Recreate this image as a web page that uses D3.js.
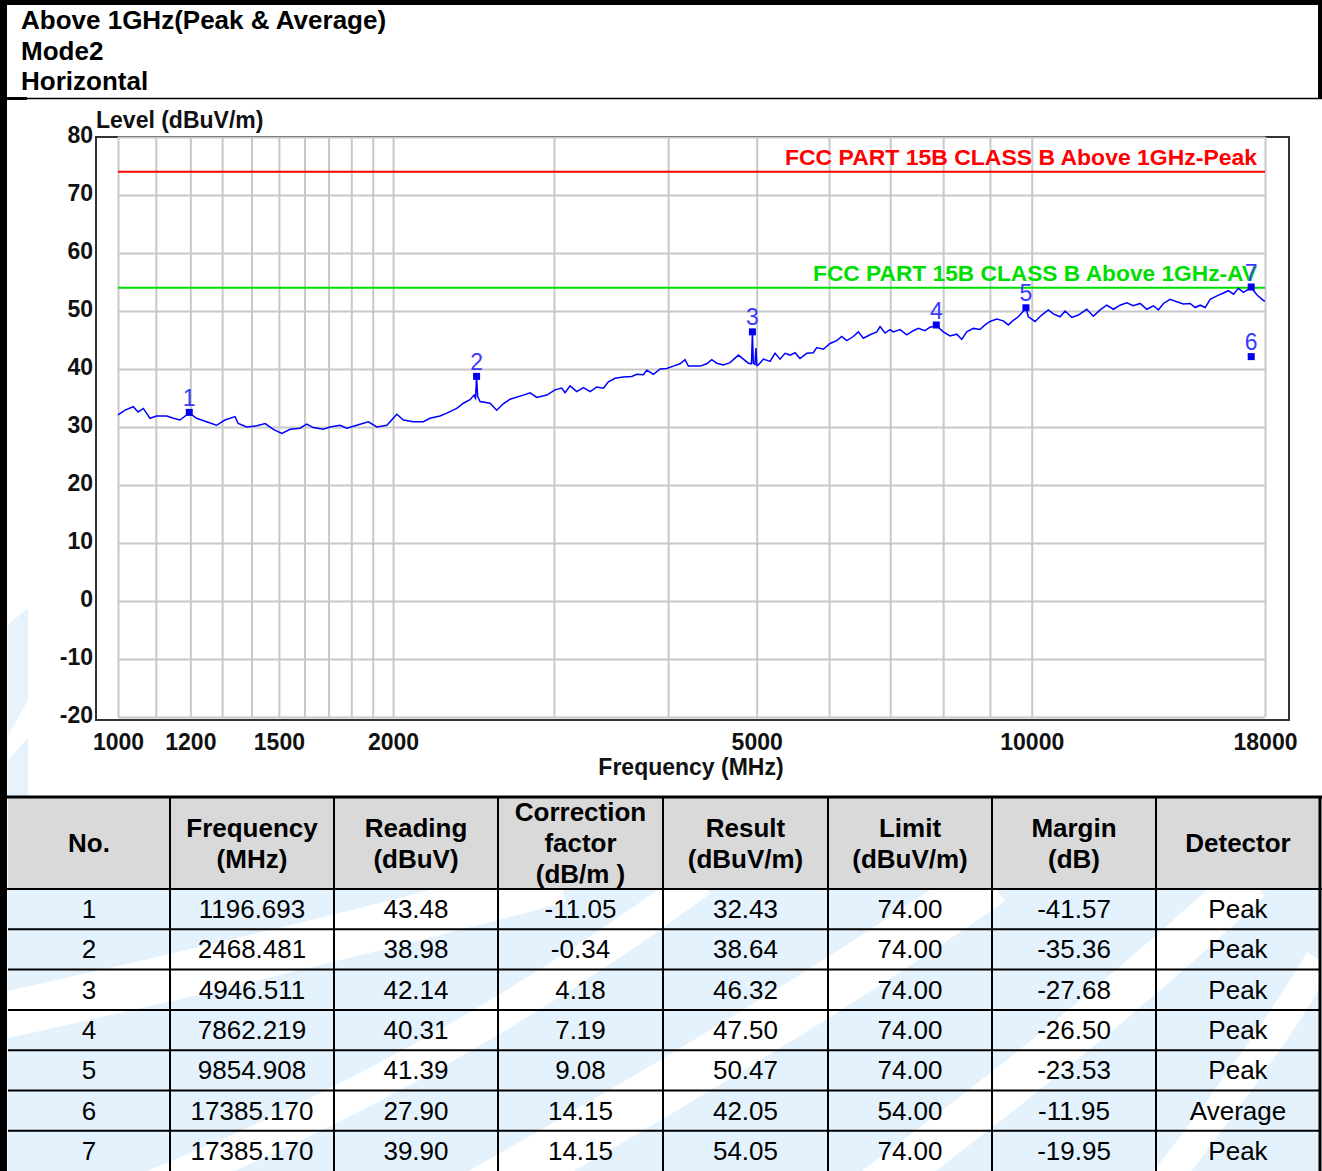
<!DOCTYPE html>
<html>
<head>
<meta charset="utf-8">
<script src="https://cdn.jsdelivr.net/npm/d3@7"></script>
<style>
    body { margin: 0; background: #fff; }
    svg { display: block; }
    text { font-family: "Liberation Sans", Arial, sans-serif; }
</style>
</head>
<body>
<svg id="page"></svg>
<script>
// ---- data ----
const titleLines = ["Above 1GHz(Peak & Average)", "Mode2", "Horizontal"];

// measured trace [MHz, dBuV/m]
const trace = [
    [1000,32.1],[1018,32.9],[1039,33.5],[1052,32.6],[1066,33.2],[1084,31.5],[1102,31.9],[1131,31.9],
    [1150,31.5],[1169,31.2],[1196.693,32.43],[1219,31.5],[1250,30.9],[1282,30.3],[1309,31.2],[1343,31.8],
    [1354,30.6],[1383,30.0],[1419,30.2],[1449,30.6],[1479,29.6],[1511,28.9],[1543,29.6],[1582,29.8],
    [1609,30.5],[1636,29.9],[1678,29.6],[1706,30.0],[1750,30.3],[1780,29.8],[1825,30.3],[1879,30.9],
    [1920,30.0],[1969,30.3],[2019,32.2],[2053,31.2],[2105,30.9],[2159,30.9],[2195,31.5],[2251,31.9],
    [2290,32.4],[2348,33.2],[2388,34.1],[2428,34.7],[2453,35.5],[2462,35.0],[2468.481,38.64],[2475,35.3],
    [2490,34.4],[2554,34.1],[2597,32.9],[2640,34.0],[2686,34.8],[2777,35.5],[2825,35.9],[2873,35.1],
    [2946,35.5],[3008,36.4],[3059,36.7],[3085,35.9],[3124,37.1],[3177,36.1],[3231,36.8],[3286,36.1],
    [3342,36.9],[3398,36.7],[3441,37.8],[3499,38.4],[3573,38.6],[3650,38.7],[3696,39.1],[3758,39.0],
    [3790,39.8],[3854,39.1],[3920,40.0],[3986,40.1],[4053,40.5],[4122,40.9],[4174,41.6],[4209,40.5],
    [4335,40.5],[4409,40.9],[4465,41.6],[4522,41.0],[4597,40.7],[4676,41.1],[4775,42.4],[4835,41.7],
    [4896,41.0],[4935,40.9],[4946.511,46.32],[4958,41.0],[4978,40.8],[4990,43.6],[5002,40.6],[5021,40.7],
    [5085,41.7],[5172,41.3],[5237,42.7],[5304,41.7],[5370,42.7],[5439,42.4],[5507,42.8],[5577,41.8],
    [5672,42.7],[5767,42.8],[5817,43.7],[5915,43.4],[6015,44.4],[6118,44.9],[6195,45.6],[6274,44.9],
    [6379,45.6],[6460,46.4],[6542,45.3],[6653,45.9],[6767,46.4],[6823,47.3],[6909,46.2],[6997,46.8],
    [7055,46.4],[7176,46.8],[7298,45.9],[7420,46.6],[7514,47.0],[7642,46.6],[7739,47.2],[7862.219,47.50],
    [8003,46.4],[8139,45.7],[8278,46.0],[8383,45.1],[8489,46.4],[8631,47.0],[8778,46.8],[8889,47.6],
    [9002,48.2],[9155,48.6],[9309,48.3],[9427,47.6],[9546,48.4],[9667,49.0],[9854.908,50.47],[9915,49.0],
    [10084,48.2],[10255,49.3],[10427,50.2],[10560,49.5],[10739,49.0],[10876,50.0],[11061,48.9],[11246,49.3],
    [11487,50.3],[11680,49.1],[11879,50.2],[12081,51.0],[12284,50.3],[12493,51.0],[12706,51.4],[12919,50.9],
    [13140,51.3],[13364,50.3],[13588,50.9],[13760,50.2],[13935,51.3],[14172,52.0],[14414,51.6],[14656,51.2],
    [14906,51.3],[15095,50.6],[15287,51.0],[15481,50.6],[15677,52.0],[15944,52.6],[16211,53.1],[16417,53.5],
    [16625,52.9],[16835,53.9],[17049,53.2],[17385.17,54.05],[17635,52.8],[17930,51.8],[18000,51.7]
];

const limitNames = ["FCC PART 15B CLASS B Above 1GHz-Peak", "FCC PART 15B CLASS B Above 1GHz-AV"];
const limitValues = [74, 54];
const limitColors = ["#ff0000", "#00dd00"];

const xLabelTicks = [1000, 1200, 1500, 2000, 5000, 10000, 18000];
const xGridTicks = d3.range(1000, 2000, 100).concat(d3.range(2000, 10001, 1000), [18000]);
const yTicks = d3.range(-20, 81, 10);

// marker table
const markerNo = [1, 2, 3, 4, 5, 6, 7];
const markerFreq = [1196.693, 2468.481, 4946.511, 7862.219, 9854.908, 17385.170, 17385.170];
const reading = [43.48, 38.98, 42.14, 40.31, 41.39, 27.90, 39.90];
const corrFactor = [-11.05, -0.34, 4.18, 7.19, 9.08, 14.15, 14.15];
const result = [32.43, 38.64, 46.32, 47.50, 50.47, 42.05, 54.05];
const limit = [74.00, 74.00, 74.00, 74.00, 74.00, 54.00, 74.00];
const margin = [-41.57, -35.36, -27.68, -26.50, -23.53, -11.95, -19.95];
const detector = ["Peak", "Peak", "Peak", "Peak", "Peak", "Average", "Peak"];

const headers = [
    ["No."], ["Frequency", "(MHz)"], ["Reading", "(dBuV)"], ["Correction", "factor", "(dB/m )"],
    ["Result", "(dBuV/m)"], ["Limit", "(dBuV/m)"], ["Margin", "(dB)"], ["Detector"]
];

// ---- layout ----
const W = 1322, H = 1171;
const svg = d3.select("#page").attr("width", W).attr("height", H);

const x = d3.scaleLog().domain([1000, 18000]).range([118, 1265]);
const y = d3.scaleLinear().domain([-20, 80]).range([717, 137]);

// faint watermark bits at left edge
svg.append("path")
    .attr("d", "M8,625 L28,608 L28,700 L8,735 Z M8,760 L28,738 L28,797 L8,797 Z")
    .attr("fill", "#e6f3fc");

// title block
const title = svg.append("g");
titleLines.forEach((t, i) => {
    title.append("text")
        .attr("x", 21).attr("y", 29 + i * 30.5)
        .attr("font-size", 26).attr("font-weight", "bold")
        .text(t);
});
svg.append("line").attr("x1", 0).attr("x2", W).attr("y1", 98.5).attr("y2", 98.5)
    .attr("stroke", "#000").attr("stroke-width", 1.5);
svg.append("rect").attr("x", 0).attr("y", 97).attr("width", 27).attr("height", 3).attr("fill", "#000");

// ---- chart ----
const chart = svg.append("g");

chart.append("rect")
    .attr("x", 96).attr("y", 137).attr("width", 1193).attr("height", 583)
    .attr("fill", "#fff").attr("stroke", "#333").attr("stroke-width", 2);

// grid via axes
chart.append("g")
    .attr("transform", "translate(0,717)")
    .call(d3.axisBottom(x).tickValues(xGridTicks).tickSize(-580).tickFormat(""))
    .call(g => g.select(".domain").remove())
    .call(g => g.selectAll("line").attr("stroke", "#c8c8c8").attr("stroke-width", 2));

chart.append("g")
    .attr("transform", "translate(118,0)")
    .call(d3.axisLeft(y).tickValues(yTicks).tickSize(-1147).tickFormat(""))
    .call(g => g.select(".domain").remove())
    .call(g => g.selectAll("line").attr("stroke", "#c8c8c8").attr("stroke-width", 2));

// tick labels (plain hyphen minus, as in the reference)
chart.append("g")
    .attr("transform", "translate(95,0)")
    .call(d3.axisLeft(y).tickValues(yTicks).tickSize(0).tickPadding(2).tickFormat(d => String(d)))
    .call(g => g.select(".domain").remove())
    .call(g => g.selectAll("text")
        .attr("font-family", "Liberation Sans, Arial, sans-serif")
        .attr("font-size", 23).attr("font-weight", "bold").attr("fill", "#111")
        .attr("dy", "0.26em"));

chart.append("g")
    .attr("transform", "translate(0,730)")
    .call(d3.axisBottom(x).tickValues(xLabelTicks).tickSize(0).tickPadding(4).tickFormat(d => String(d)))
    .call(g => g.select(".domain").remove())
    .call(g => g.selectAll("text")
        .attr("font-family", "Liberation Sans, Arial, sans-serif")
        .attr("font-size", 23).attr("font-weight", "bold").attr("fill", "#111"));

chart.append("text")
    .attr("x", 96).attr("y", 128)
    .attr("font-size", 23).attr("font-weight", "bold").attr("fill", "#111")
    .text("Level (dBuV/m)");

chart.append("text")
    .attr("x", 691).attr("y", 775).attr("text-anchor", "middle")
    .attr("font-size", 23).attr("font-weight", "bold").attr("fill", "#111")
    .text("Frequency (MHz)");

// limit lines
limitValues.forEach((v, i) => {
    chart.append("line")
        .attr("x1", x(1000)).attr("x2", x(18000))
        .attr("y1", y(v)).attr("y2", y(v))
        .attr("stroke", limitColors[i]).attr("stroke-width", 2);
    chart.append("text")
        .attr("x", 1257).attr("y", y(v) - 7)
        .attr("text-anchor", "end")
        .attr("font-size", 22).attr("font-weight", "bold")
        .attr("fill", limitColors[i])
        .attr("textLength", i === 0 ? 472 : 444)
        .attr("lengthAdjust", "spacingAndGlyphs")
        .text(limitNames[i]);
});

// trace
const line = d3.line().x(d => x(d[0])).y(d => y(d[1]));
chart.append("path")
    .datum(trace)
    .attr("d", line)
    .attr("fill", "none")
    .attr("stroke", "#0000ff")
    .attr("stroke-width", 1.5)
    .attr("stroke-linejoin", "miter");

// markers
const markers = markerNo.map((n, i) => ({ n, f: markerFreq[i], v: result[i] }));
const mk = chart.selectAll(".marker").data(markers).enter().append("g").attr("class", "marker");
mk.append("rect")
    .attr("x", d => x(d.f) - 3.5).attr("y", d => y(d.v) - 4)
    .attr("width", 7).attr("height", 7)
    .attr("fill", "#0000ee");
mk.append("text")
    .attr("x", d => x(d.f)).attr("y", d => y(d.v) - 7)
    .attr("text-anchor", "middle")
    .attr("font-size", 23).attr("fill", "#3a3aff")
    .text(d => d.n);

// ---- table ----
const colEdges = [8, 170, 334, 498, 663, 828, 992, 1156, 1320];
const headTop = 797, headBot = 889, rowH = 40.3;
const table = svg.append("g");

// body background + watermark swooshes
const bodyClip = svg.append("clipPath").attr("id", "bodyClip");
bodyClip.append("rect").attr("x", 8).attr("y", headBot).attr("width", 1312).attr("height", H - headBot);
const wm = table.append("g").attr("clip-path", "url(#bodyClip)");
wm.append("rect").attr("x", 8).attr("y", headBot).attr("width", 1312).attr("height", H - headBot).attr("fill", "#e3f2fd");
[
    ["M-40,1025 Q260,960 560,880", 46],
    ["M120,1200 Q430,1080 700,880", 34],
    ["M470,1200 Q790,1020 990,880", 52],
    ["M860,1200 Q1090,1030 1250,880", 44],
    ["M1150,1200 Q1260,1060 1320,960", 30]
].forEach(([d, w]) => {
    wm.append("path").attr("d", d).attr("fill", "none").attr("stroke", "#fff").attr("stroke-width", w);
});

table.append("rect")
    .attr("x", 8).attr("y", headTop).attr("width", 1312).attr("height", headBot - headTop)
    .attr("fill", "#d9d9d9");

// header text
headers.forEach((lines, c) => {
    const cx = (colEdges[c] + colEdges[c + 1]) / 2;
    const mid = (headTop + headBot) / 2;
    const lh = 31;
    lines.forEach((t, k) => {
        table.append("text")
            .attr("x", cx)
            .attr("y", mid + (k - (lines.length - 1) / 2) * lh + 9)
            .attr("text-anchor", "middle")
            .attr("font-size", 26).attr("font-weight", "bold")
            .text(t);
    });
});

// body text
const rows = markerNo.map((n, i) => [
    String(n), markerFreq[i].toFixed(3), reading[i].toFixed(2), corrFactor[i].toFixed(2),
    result[i].toFixed(2), limit[i].toFixed(2), margin[i].toFixed(2), detector[i]
]);
rows.forEach((r, i) => {
    const cy = headBot + i * rowH + rowH / 2;
    r.forEach((t, c) => {
        table.append("text")
            .attr("x", (colEdges[c] + colEdges[c + 1]) / 2)
            .attr("y", cy + 9)
            .attr("text-anchor", "middle")
            .attr("font-size", 26)
            .text(t);
    });
});

// table rules
const rule = (x1, y1, x2, y2, w) => table.append("line")
    .attr("x1", x1).attr("y1", y1).attr("x2", x2).attr("y2", y2)
    .attr("stroke", "#000").attr("stroke-width", w);
rule(0, headTop, W, headTop, 3);
rule(0, headBot, W, headBot, 2);
d3.range(1, 7).forEach(i => rule(8, headBot + i * rowH, 1320, headBot + i * rowH, 2));
colEdges.slice(1, -1).forEach(cx => rule(cx, headTop, cx, H, 2));
rule(1320, headTop, 1320, H, 3);

// page border
svg.append("rect").attr("x", 0).attr("y", 0).attr("width", 7).attr("height", H).attr("fill", "#000");
svg.append("rect").attr("x", 0).attr("y", 0).attr("width", W).attr("height", 5).attr("fill", "#000");
svg.append("rect").attr("x", 1318).attr("y", 0).attr("width", 4).attr("height", 99).attr("fill", "#000");
</script>
</body>
</html>
